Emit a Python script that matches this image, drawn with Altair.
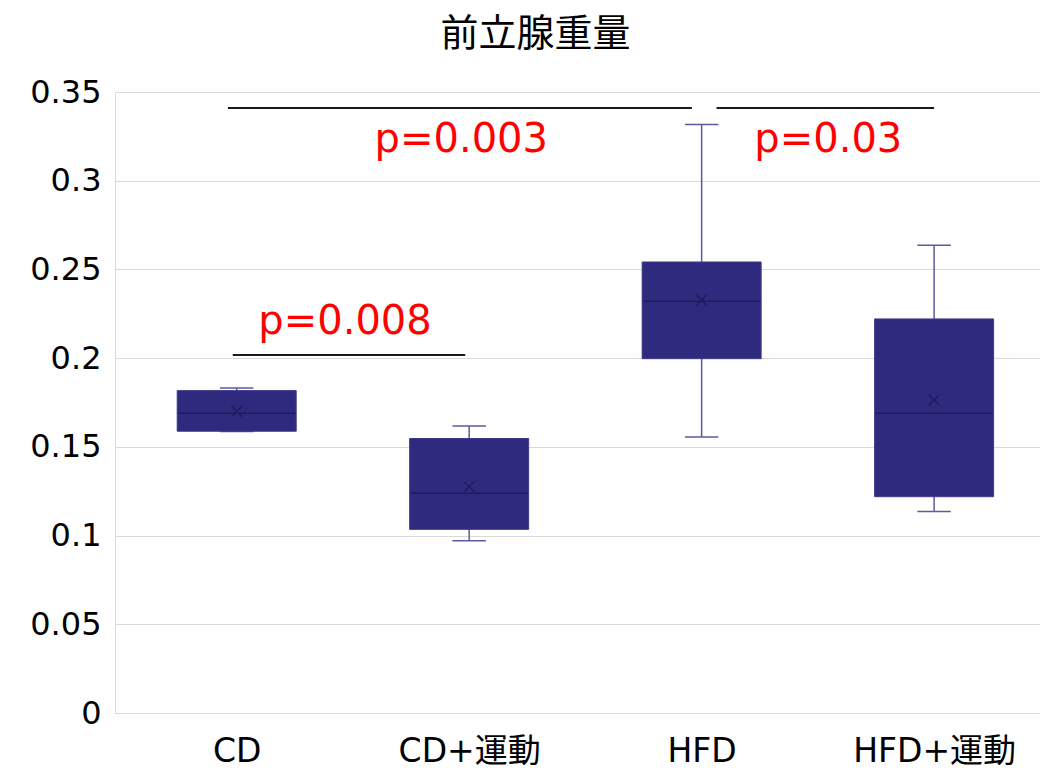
import json
import altair as alt
import pandas as pd

# ---- data ----
groups = ["CD", "CD+運動", "HFD", "HFD+運動"]
whisker_lo = [0.1586, 0.0971, 0.1556, 0.1135]
q1 = [0.1588, 0.1035, 0.1997, 0.1219]
median = [0.1690, 0.1238, 0.2321, 0.1690]
q3 = [0.1817, 0.1547, 0.2542, 0.2221]
whisker_hi = [0.1832, 0.1618, 0.3317, 0.2636]
mean = [0.1699, 0.1276, 0.2326, 0.1764]

sig_x1 = [-0.038, 2.064, -0.017]
sig_x2 = [1.958, 3.000, 0.983]
sig_y = [0.341, 0.341, 0.2018]
p_labels = ["p=0.003", "p=0.03", "p=0.008"]
p_x = [0.966, 2.545, 0.466]
p_y = [0.323, 0.323, 0.2204]

y_ticks = [0, 0.05, 0.1, 0.15, 0.2, 0.25, 0.3, 0.35]

df = pd.DataFrame({
    "idx": list(range(len(groups))),
    "group": groups,
    "lo": whisker_lo,
    "q1": q1,
    "median": median,
    "q3": q3,
    "hi": whisker_hi,
    "mean": mean,
})
sig = pd.DataFrame({"x1": sig_x1, "x2": sig_x2, "y": sig_y})
ptxt = pd.DataFrame({"label": p_labels, "x": p_x, "y": p_y})

LATIN = "DejaVu Sans, Noto Sans CJK JP"
CJK = "Noto Sans CJK JP"
FILL = "#2E2A7E"
WHISK = "#5B5A9C"
DARK = "#1E1B5A"

label_expr = json.dumps(groups, ensure_ascii=False) + "[datum.value]"

xscale = alt.Scale(domain=[-0.502, 3.434], nice=False, zero=False)
yscale = alt.Scale(domain=[0, 0.35], nice=False, zero=False)

x_axis = alt.Axis(values=[0, 1, 2, 3], labelExpr=label_expr, grid=False, ticks=False,
                  domain=False, labelFontSize=33, labelFont=LATIN, labelColor="#000000",
                  labelPadding=22, title=None)
y_axis = alt.Axis(values=y_ticks, format="~g", grid=True, gridColor="#D9D9D9", gridWidth=1,
                  ticks=False, domain=True, domainColor="#D9D9D9", labelFontSize=32,
                  labelFont=LATIN, labelColor="#000000", labelPadding=14, title=None)

base = alt.Chart(df)

whiskers = base.mark_rule(color=WHISK, strokeWidth=1.5).encode(
    x=alt.X("idx:Q", scale=xscale, axis=x_axis),
    y=alt.Y("lo:Q", scale=yscale, axis=y_axis),
    y2="hi:Q",
)

caps_lo = base.transform_calculate(xl="datum.idx - 0.072", xr="datum.idx + 0.072").mark_rule(
    color=WHISK, strokeWidth=1.5).encode(x="xl:Q", x2="xr:Q", y="lo:Q")
caps_hi = base.transform_calculate(xl="datum.idx - 0.072", xr="datum.idx + 0.072").mark_rule(
    color=WHISK, strokeWidth=1.5).encode(x="xl:Q", x2="xr:Q", y="hi:Q")

boxes = base.mark_bar(size=119, color=FILL, stroke="#3E3B8C", strokeWidth=1).encode(
    x="idx:Q", y="q1:Q", y2="q3:Q")

medians = base.transform_calculate(xl="datum.idx - 0.253", xr="datum.idx + 0.253").mark_rule(
    color=DARK, strokeWidth=1.5).encode(x="xl:Q", x2="xr:Q", y="median:Q")

means = base.mark_point(shape="M-1,-1L1,1M-1,1L1,-1", filled=False, color=DARK,
                        strokeWidth=1.3, size=110, opacity=1).encode(x="idx:Q", y="mean:Q")

sig_lines = alt.Chart(sig).mark_rule(color="#1A1A1A", strokeWidth=2).encode(
    x="x1:Q", x2="x2:Q", y="y:Q")

sig_text = alt.Chart(ptxt).mark_text(color="#FF0000", fontSize=40, font=LATIN,
                                     align="center", baseline="middle").encode(
    x="x:Q", y="y:Q", text="label:N")

chart = alt.layer(whiskers, caps_lo, caps_hi, boxes, medians, means, sig_lines, sig_text).properties(
    width=925,
    height=621,
    autosize=alt.AutoSizeParams(type="none"),
    padding={"left": 107, "top": 84, "right": 0, "bottom": 56},
    title=alt.TitleParams("前立腺重量", font=CJK, fontSize=38, fontWeight="normal",
                          color="#000000", anchor="middle", dx=-42, offset=22),
).configure_view(stroke=None)

chart.save("out.html", embed_options={"renderer": "svg", "actions": False})
